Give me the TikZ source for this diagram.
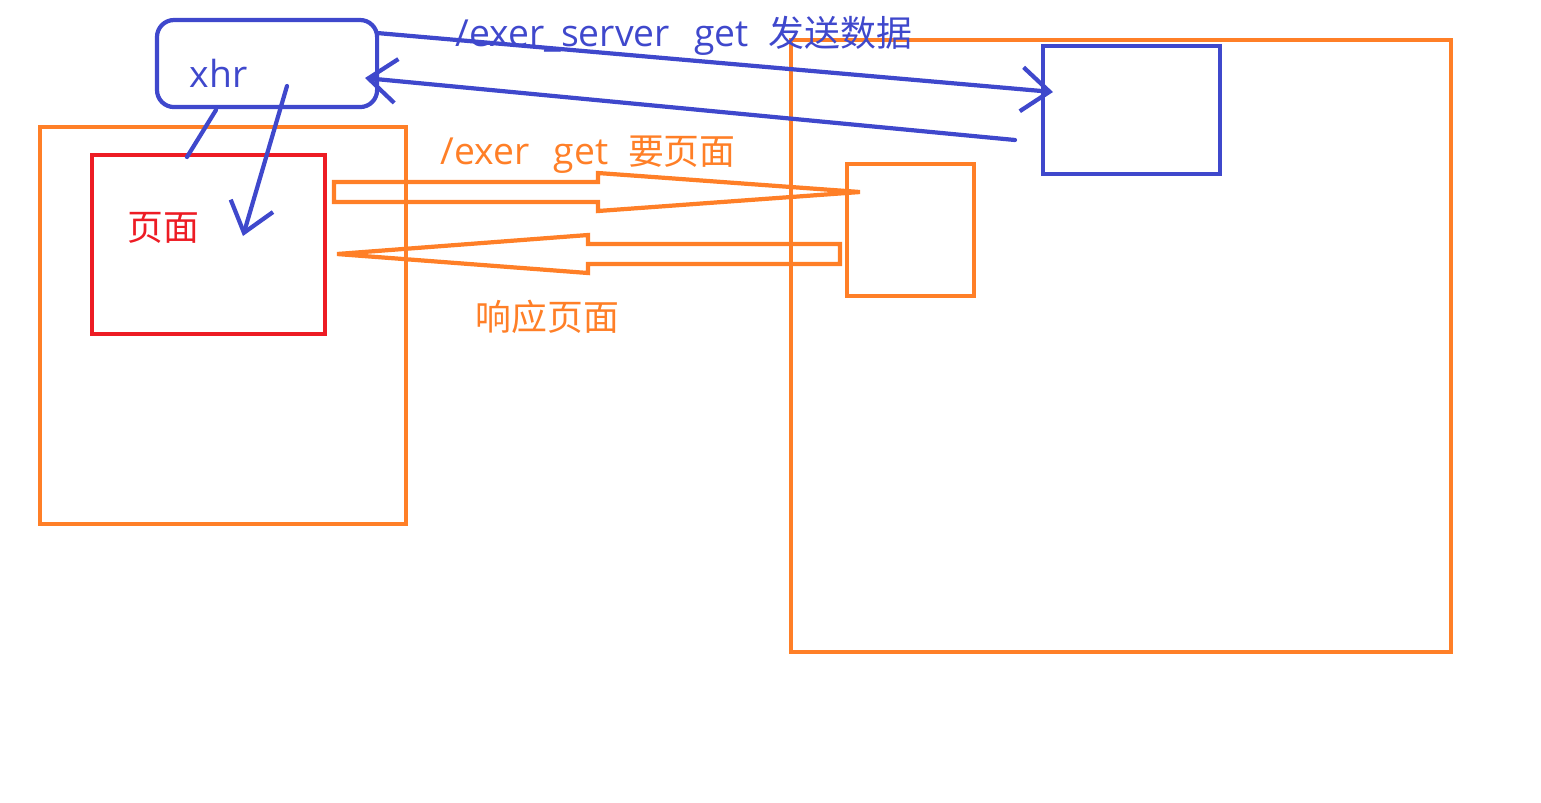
\documentclass[tikz,border=0pt]{standalone}
\usepackage{fontspec}
\setmainfont{Open Sans}
\newfontfamily\cjk{Noto Sans CJK SC}
\usetikzlibrary{arrows.meta,positioning}
\definecolor{pblue}{HTML}{3F48CC}
\definecolor{porange}{HTML}{FF7F27}
\definecolor{pred}{HTML}{ED1C24}

% hollow block arrow: tail x, neck x, tip x, centre y
\newcommand{\blockarrow}[4]{
	\draw[oline] (#1,#4-10) -- (#2,#4-10) -- (#2,#4-19) -- (#3,#4) -- (#2,#4+19) -- (#2,#4+10) -- (#1,#4+10) -- cycle;
}
\newcommand{\zh}[1]{{\cjk\fontsize{10.2}{12}\selectfont #1}}

\begin{document}
\begin{tikzpicture}[x=0.01cm,y=-0.01cm,
		box/.style={line width=1.2pt,inner sep=0pt,outer sep=0pt,anchor=north west},
		bline/.style={pblue,line width=1.2pt,line cap=round},
		oline/.style={porange,line width=1.2pt},
		barb/.style={-{Straight Barb[length=2.8mm,width=4.4mm]}},
		lbl/.style={inner sep=0pt,anchor=west,font=\fontsize{10.6}{12}\selectfont}]
				\useasboundingbox (0,0) rectangle (1541,802);
				% boxes
				\node[box,draw=porange,minimum width=3.66cm,minimum height=3.97cm] (browser) at (40,127) {};
				\node[box,draw=pred,minimum width=2.33cm,minimum height=1.79cm] (page) at (92,155) {};
				\node[box,draw=pblue,rounded corners=1.7mm,minimum width=2.2cm,minimum height=0.87cm] (xhr) at (157,20) {};
				\node[box,draw=porange,minimum width=6.6cm,minimum height=6.12cm] (server) at (791,40) {};
				\node[box,draw=porange,minimum width=1.27cm,minimum height=1.32cm] (exer) at (847,164) {};
				\node[box,draw=pblue,minimum width=1.77cm,minimum height=1.28cm] (exerserver) at (1043,46) {};
				% labels
				\node[lbl,pblue] (xhrlbl) at (189,73) {xhr};
				\node[lbl,pred] (pagelbl) at (127,228) {\zh{页面}};
				\node[lbl,pblue] (sendlbl) at (455,36) {/exer\_server\ \ \hspace{0.5mm}get\hspace{1mm} \zh{发送数据}};
				\node[lbl,porange] (getlbl) at (440,155) {/exer\ \ \hspace{0.5mm}get\hspace{1mm} \zh{要页面}};
				\node[lbl,porange] (resplbl) at (475,317) {\zh{响应页面}};
				% blue strokes
				\coordinate (xhrfoot) at (216,110);
				\coordinate (pagetop) at (187,157);
				\coordinate (xhrdown) at (287,86);
				\coordinate (pagetip) at (243,236);
				\coordinate (xhrout) at (377,33);
				\coordinate (sendtip) at (1053,92);
				\coordinate (backstart) at (1015,140);
				\coordinate (backtip) at (365,78);
				\draw[bline] (xhrfoot) -- (pagetop);
				\draw[bline,barb] (xhrdown) -- (pagetip);
				\draw[bline,barb] (xhrout) -- (sendtip);
				\draw[bline,barb] (backstart) -- (backtip);
				% orange block arrows
				\blockarrow{334}{598}{860}{192}
				\blockarrow{840}{588}{337}{254}
			\end{tikzpicture}
\end{document}
